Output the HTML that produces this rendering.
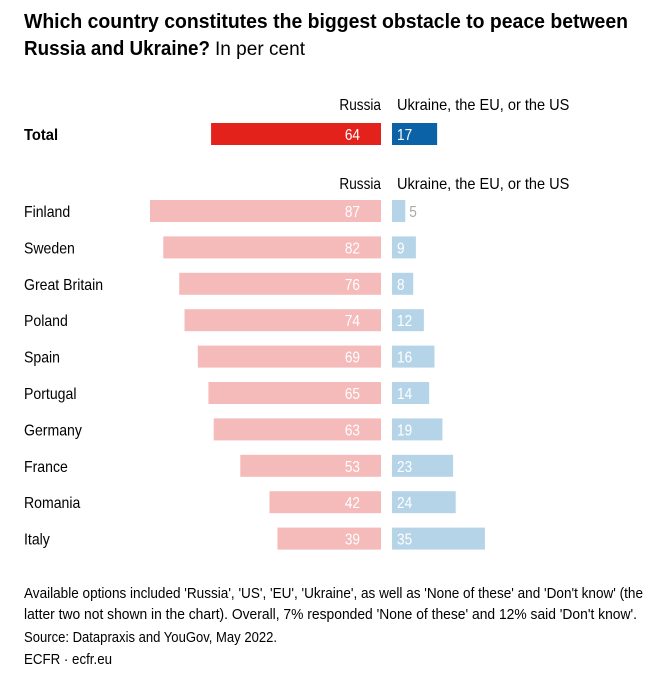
<!DOCTYPE html>
<html><head><meta charset="utf-8"><style>
body{margin:0;background:#fff;width:662px;height:680px;overflow:hidden;font-family:"Liberation Sans",sans-serif;color:#111}
svg text{font-family:"Liberation Sans",sans-serif}
</style></head><body>
<svg id="chart" width="662" height="680" xmlns="http://www.w3.org/2000/svg">
<text x="24" y="28" font-size="20" font-weight="bold" textLength="604" lengthAdjust="spacingAndGlyphs">Which country constitutes the biggest obstacle to peace between</text>
<text x="24" y="55" font-size="20" font-weight="bold" textLength="186" lengthAdjust="spacingAndGlyphs">Russia and Ukraine?</text>
<text x="215" y="55" font-size="19" textLength="90" lengthAdjust="spacingAndGlyphs">In per cent</text>
<g id="bars"></g>
<text x="24" y="598" font-size="14.5" textLength="619" lengthAdjust="spacingAndGlyphs">Available options included 'Russia', 'US', 'EU', 'Ukraine', as well as 'None of these' and 'Don't know' (the</text>
<text x="24" y="619" font-size="14.5" textLength="613" lengthAdjust="spacingAndGlyphs">latter two not shown in the chart). Overall, 7% responded 'None of these' and 12% said 'Don't know'.</text>
<text x="24" y="642" font-size="14.5" textLength="253" lengthAdjust="spacingAndGlyphs">Source: Datapraxis and YouGov, May 2022.</text>
<text x="24" y="664" font-size="14.5" textLength="88" lengthAdjust="spacingAndGlyphs">ECFR · ecfr.eu</text>
</svg>
<script>
const countries=["Finland","Sweden","Great Britain","Poland","Spain","Portugal","Germany","France","Romania","Italy"];
const russia=[87,82,76,74,69,65,63,53,42,39];
const ukraine=[5,9,8,12,16,14,19,23,24,35];
const totalRussia=64, totalUkraine=17;
const NS="http://www.w3.org/2000/svg";
const g=document.getElementById('bars');
const mid=381, uStart=392, scale=2.655, bh=22;
function el(t,a){const e=document.createElementNS(NS,t);for(const k in a)e.setAttribute(k,a[k]);g.appendChild(e);return e;}
function squeeze(t,f){const L=t.getComputedTextLength();t.setAttribute('textLength',L*f);t.setAttribute('lengthAdjust','spacingAndGlyphs');}
function header(y){
 const a=el('text',{x:381,y:y,'font-size':16,'text-anchor':'end'});a.textContent='Russia';
 
 
 squeeze(a,0.85);
 const b=el('text',{x:397,y:y,'font-size':16});b.textContent='Ukraine, the EU, or the US';
 
 
 squeeze(b,0.91);
}
function row(label,r,u,cy,bold,rc,uc,id){
 const l=el('text',{x:24,y:cy+6,'font-size':16,'font-weight':bold?'bold':'normal'});l.textContent=label;
 
 
 squeeze(l,bold?0.92:0.88);
 const rw=r*scale;
 const rb=el('rect',{x:mid-rw,y:cy-bh/2,width:rw,height:bh,fill:rc});
 
 
 const rt=el('text',{x:mid-21,y:cy+6,'font-size':16,fill:'#fff','text-anchor':'end'});rt.textContent=r;
 
 
 squeeze(rt,0.85);
 const uw=u*scale;
 const ub=el('rect',{x:uStart,y:cy-bh/2,width:uw,height:bh,fill:uc});
 
 
 const inside=uw>18;
 const ut=el('text',{x:inside?uStart+5:uStart+uw+4,y:cy+6,'font-size':16,fill:inside?'#fff':'#aaa'});ut.textContent=u;
 
 
 squeeze(ut,0.85);
}
header(110);
row('Total',totalRussia,totalUkraine,134,true,'#e3231b','#0b62a7','total');
header(189);
countries.forEach((c,i)=>row(c,russia[i],ukraine[i],211+i*36.4,false,'#f5baba','#b6d4e8',c.toLowerCase().replace(/ /g,'-')));
</script>
</body></html>
